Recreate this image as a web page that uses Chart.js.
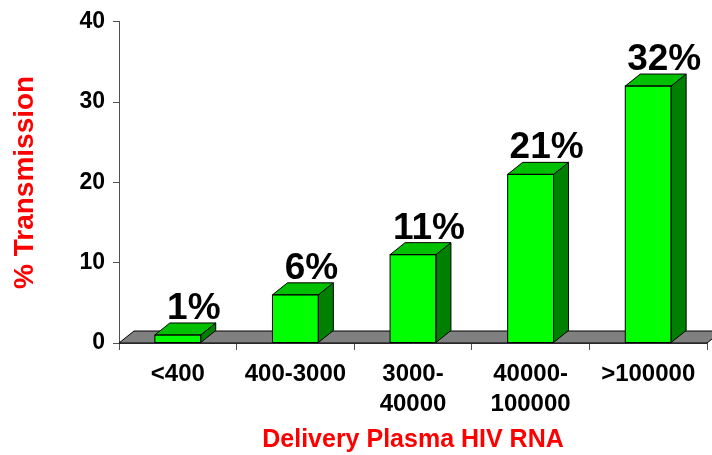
<!DOCTYPE html>
<html>
<head>
<meta charset="utf-8">
<script src="https://cdn.jsdelivr.net/npm/chart.js@4"></script>
<style>
  html, body { margin: 0; padding: 0; background: #ffffff; }
  #wrap { width: 712px; height: 455px; position: relative; }
</style>
</head>
<body>
<div id="wrap"><canvas id="c" width="712" height="455"></canvas></div>
<script>
// ---- data ----
const categories = ['<400', '400-3000', ['3000-', '40000'], ['40000-', '100000'], '>100000'];
const transmission = [1, 6, 11, 21, 32];
const valueLabels = ['1%', '6%', '11%', '21%', '32%'];
const yMin = 0;
const yMax = 40;
const yStep = 10;
const xTitle = 'Delivery Plasma HIV RNA';
const yTitle = '% Transmission';

const FONT = "'Liberation Sans', Arial, sans-serif";
const DEPTH_X = 15, DEPTH_Y = -12;

const threeD = {
  id: 'threeD',
  beforeDatasetsDraw(chart) {
    const ctx = chart.ctx;
    const xs = chart.scales.x, ys = chart.scales.y;
    const base = ys.getPixelForValue(0);
    ctx.save();
    ctx.beginPath();
    ctx.moveTo(xs.left, base);
    ctx.lineTo(xs.right, base);
    ctx.lineTo(xs.right + DEPTH_X, base + DEPTH_Y);
    ctx.lineTo(xs.left + DEPTH_X, base + DEPTH_Y);
    ctx.closePath();
    ctx.fillStyle = '#808080';
    ctx.fill();
    ctx.lineWidth = 1;
    ctx.strokeStyle = '#000000';
    ctx.stroke();
    ctx.restore();
  },
  afterDatasetsDraw(chart) {
    const ctx = chart.ctx;
    const meta = chart.getDatasetMeta(0);
    ctx.save();
    ctx.lineWidth = 1;
    ctx.strokeStyle = '#000000';
    meta.data.forEach((bar, i) => {
      const l = bar.x - bar.width / 2, r = bar.x + bar.width / 2;
      const t = bar.y, b = bar.base;
      // side face
      ctx.beginPath();
      ctx.moveTo(r, b);
      ctx.lineTo(r, t);
      ctx.lineTo(r + DEPTH_X, t + DEPTH_Y);
      ctx.lineTo(r + DEPTH_X, b + DEPTH_Y);
      ctx.closePath();
      ctx.fillStyle = '#008000';
      ctx.fill();
      ctx.stroke();
      // top face
      ctx.beginPath();
      ctx.moveTo(l, t);
      ctx.lineTo(r, t);
      ctx.lineTo(r + DEPTH_X, t + DEPTH_Y);
      ctx.lineTo(l + DEPTH_X, t + DEPTH_Y);
      ctx.closePath();
      ctx.fillStyle = '#00C000';
      ctx.fill();
      ctx.stroke();
      // front outline
      ctx.strokeRect(l, t, r - l, b - t);
      // value label
      ctx.fillStyle = '#000000';
      ctx.font = "bold 37px " + FONT;
      ctx.textAlign = 'center';
      ctx.textBaseline = 'alphabetic';
      ctx.fillText(valueLabels[i], bar.x + 16, t - 16);
    });
    ctx.restore();
  }
};

new Chart(document.getElementById('c'), {
  type: 'bar',
  data: {
    labels: categories,
    datasets: [{
      data: transmission,
      backgroundColor: '#00FF00',
      borderColor: '#000000',
      borderWidth: 0,
      categoryPercentage: 1.0,
      barPercentage: 0.39
    }]
  },
  options: {
    responsive: false,
    animation: false,
    layout: { padding: { top: 21, right: 5, bottom: 0, left: 0 } },
    plugins: { legend: { display: false }, tooltip: { enabled: false } },
    scales: {
      x: {
        offset: true,
        grid: { display: true, drawOnChartArea: false, drawTicks: true, tickLength: 7, color: '#505050', offset: true },
        border: { display: true, color: '#505050' },
        ticks: { color: '#000000', font: { family: FONT, size: 24, weight: 'bold', lineHeight: 1.25 }, padding: 9, maxRotation: 0, autoSkip: false },
        title: { display: true, text: xTitle, color: '#FF0000', font: { family: FONT, size: 25, weight: 'bold', lineHeight: 1.2 }, padding: { top: 0, bottom: 0 } },
        afterFit(scale) { scale.height = 112; }
      },
      y: {
        min: yMin, max: yMax,
        grid: { display: true, drawOnChartArea: false, drawTicks: true, tickLength: 6, color: '#505050' },
        border: { display: true, color: '#505050' },
        ticks: { stepSize: yStep, color: '#000000', font: { family: FONT, size: 23, weight: 'bold' }, padding: 8 },
        title: { display: true, text: yTitle, color: '#FF0000', font: { family: FONT, size: 28, weight: 'bold', lineHeight: 1.2 }, padding: { top: 8, bottom: 0 } },
        afterFit(scale) { scale.width = 119; }
      }
    }
  },
  plugins: [threeD]
});
</script>
</body>
</html>
